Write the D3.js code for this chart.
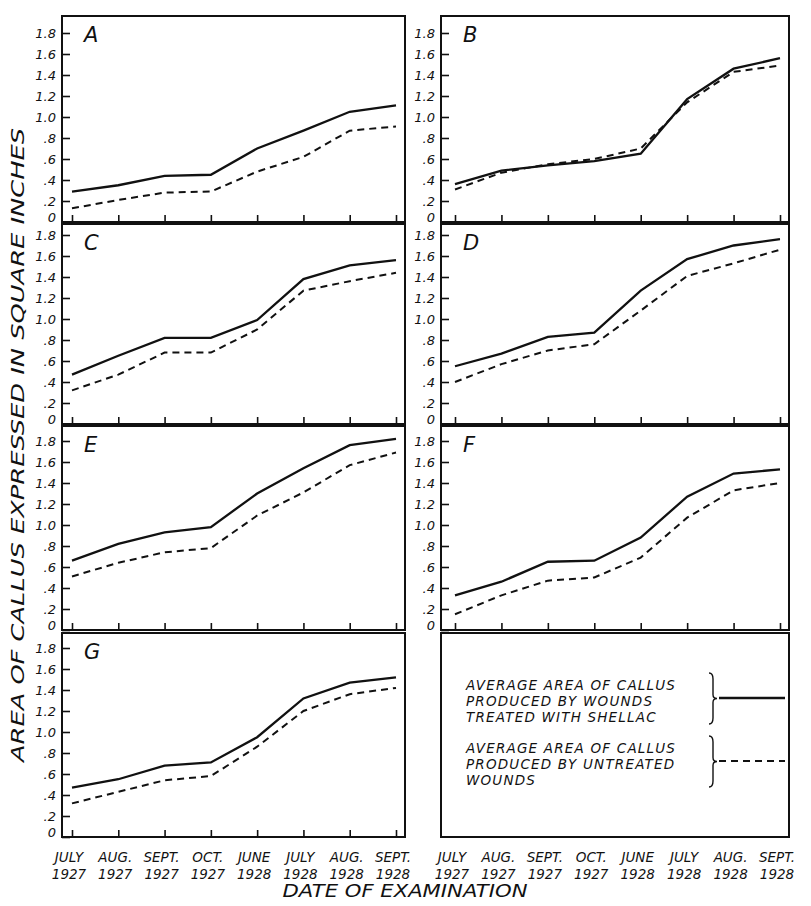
<!DOCTYPE html>
<html>
<head>
<meta charset="utf-8">
<script src="https://cdn.jsdelivr.net/npm/d3@7"></script>
<style>
  html, body { margin: 0; padding: 0; background: #fff; }
  svg { display: block; }
  text { font-family: 'DejaVu Sans', sans-serif; font-style: italic; fill: #111; }
</style>
</head>
<body>
<svg id="chart" width="811" height="906"></svg>
<script>
// x categories (date of examination)
const months = ['JULY', 'AUG.', 'SEPT.', 'OCT.', 'JUNE', 'JULY', 'AUG.', 'SEPT.'];
const years = ['1927', '1927', '1927', '1927', '1928', '1928', '1928', '1928'];

// y ticks
const yTicks = [0, 0.2, 0.4, 0.6, 0.8, 1.0, 1.2, 1.4, 1.6, 1.8];
const yTickLabels = ['0', '.2', '.4', '.6', '.8', '1.0', '1.2', '1.4', '1.6', '1.8'];

// 셸락 처리 / 무처리 상처 — 패널별 값 (sq. in.)
const shellacA = [0.29, 0.35, 0.44, 0.45, 0.70, 0.87, 1.05, 1.11];
const untreatedA = [0.13, 0.21, 0.28, 0.29, 0.48, 0.62, 0.87, 0.91];
const shellacB = [0.36, 0.49, 0.54, 0.58, 0.65, 1.17, 1.46, 1.56];
const untreatedB = [0.31, 0.47, 0.55, 0.60, 0.70, 1.14, 1.43, 1.49];
const shellacC = [0.47, 0.65, 0.82, 0.82, 0.99, 1.38, 1.51, 1.56];
const untreatedC = [0.32, 0.47, 0.68, 0.68, 0.90, 1.27, 1.36, 1.44];
const shellacD = [0.55, 0.67, 0.83, 0.87, 1.27, 1.57, 1.70, 1.76];
const untreatedD = [0.40, 0.57, 0.70, 0.76, 1.08, 1.41, 1.53, 1.66];
const shellacE = [0.66, 0.82, 0.93, 0.98, 1.30, 1.54, 1.76, 1.82];
const untreatedE = [0.51, 0.64, 0.74, 0.78, 1.09, 1.31, 1.57, 1.69];
const shellacF = [0.33, 0.46, 0.65, 0.66, 0.88, 1.27, 1.49, 1.53];
const untreatedF = [0.15, 0.33, 0.47, 0.50, 0.69, 1.07, 1.33, 1.40];
const shellacG = [0.47, 0.55, 0.68, 0.71, 0.95, 1.32, 1.47, 1.52];
const untreatedG = [0.32, 0.43, 0.54, 0.58, 0.86, 1.20, 1.36, 1.42];

const legendShellac = ['AVERAGE AREA OF CALLUS', 'PRODUCED BY WOUNDS', 'TREATED WITH SHELLAC'];
const legendUntreated = ['AVERAGE AREA OF CALLUS', 'PRODUCED BY UNTREATED', 'WOUNDS'];

const panels = [
  { id: 'A', col: 0, row: 0, shellac: shellacA, untreated: untreatedA },
  { id: 'B', col: 1, row: 0, shellac: shellacB, untreated: untreatedB },
  { id: 'C', col: 0, row: 1, shellac: shellacC, untreated: untreatedC },
  { id: 'D', col: 1, row: 1, shellac: shellacD, untreated: untreatedD },
  { id: 'E', col: 0, row: 2, shellac: shellacE, untreated: untreatedE },
  { id: 'F', col: 1, row: 2, shellac: shellacF, untreated: untreatedF },
  { id: 'G', col: 0, row: 3, shellac: shellacG, untreated: untreatedG },
];

// 레이아웃
const cols = [
  { left: 62, right: 405, first: 72, last: 396 },
  { left: 441, right: 789, first: 455, last: 780 },
];
const rows = [
  { top: 16, bottom: 222 },
  { top: 224, bottom: 424 },
  { top: 426, bottom: 630 },
  { top: 633, bottom: 837 },
];
const tickSpan = 189; // px from 0 to 1.8

const svg = d3.select('#chart');
const idx = d3.range(months.length);

function drawPanel(p) {
  const c = cols[p.col];
  const r = rows[p.row];
  const x = d3.scalePoint().domain(idx).range([c.first, c.last]);
  const y = d3.scaleLinear().domain([0, 1.8]).range([r.bottom, r.bottom - tickSpan]);

  const g = svg.append('g').attr('class', `panel-${p.id}`);

  g.append('rect')
    .attr('x', c.left)
    .attr('y', r.top)
    .attr('width', c.right - c.left)
    .attr('height', r.bottom - r.top)
    .attr('fill', 'none')
    .attr('stroke', '#111')
    .attr('stroke-width', 2);

  // y축: 안쪽으로 눈금
  const yAxis = g.append('g')
    .attr('transform', `translate(${c.left},0)`)
    .call(d3.axisRight(y).tickValues(yTicks).tickSize(8).tickFormat(''));
  yAxis.select('.domain').remove();
  yAxis.selectAll('line').attr('stroke', '#111').attr('stroke-width', 1.6);

  // 0 라벨은 아래 패널의 1.8과 겹치지 않게 살짝 위로
  g.selectAll('.ylab')
    .data(yTicks)
    .enter()
    .append('text')
    .attr('x', c.left - 6)
    .attr('y', (d) => y(d) + (d === 0 ? 0 : 4.5))
    .attr('text-anchor', 'end')
    .attr('font-size', 13)
    .text((d, i) => yTickLabels[i]);

  // x축 눈금 (아래에서 위로)
  const xAxis = g.append('g')
    .attr('transform', `translate(0,${r.bottom})`)
    .call(d3.axisTop(x).tickSize(7).tickFormat(''));
  xAxis.select('.domain').remove();
  xAxis.selectAll('line').attr('stroke', '#111').attr('stroke-width', 1.6);

  const line = d3.line()
    .x((d, i) => x(i))
    .y((d) => y(d));

  g.append('path')
    .datum(p.untreated)
    .attr('d', line)
    .attr('fill', 'none')
    .attr('stroke', '#111')
    .attr('stroke-width', 2)
    .attr('stroke-dasharray', '7,5');

  g.append('path')
    .datum(p.shellac)
    .attr('d', line)
    .attr('fill', 'none')
    .attr('stroke', '#111')
    .attr('stroke-width', 2.3);

  g.append('text')
    .attr('x', c.left + 22)
    .attr('y', r.top + 26)
    .attr('font-size', 21)
    .text(p.id);

  // 맨 아래 행만 날짜 라벨
  if (p.row === 3 || (p.col === 1 && p.row === 2)) {
    const labels = svg.append('g');
    labels.selectAll('.m')
      .data(idx)
      .enter()
      .append('text')
      .attr('x', (i) => x(i) - 3)
      .attr('y', 862)
      .attr('text-anchor', 'middle')
      .attr('font-size', 13.5)
      .text((i) => months[i]);
    labels.selectAll('.yr')
      .data(idx)
      .enter()
      .append('text')
      .attr('x', (i) => x(i) - 3)
      .attr('y', 879)
      .attr('text-anchor', 'middle')
      .attr('font-size', 13.5)
      .text((i) => years[i]);
  }
}

function bracePath(bx, y0, y1, w) {
  const ym = (y0 + y1) / 2;
  const xm = bx + w / 2;
  return `M${bx},${y0} Q${xm},${y0} ${xm},${y0 + 6} L${xm},${ym - 4} Q${xm},${ym} ${bx + w},${ym}` +
    ` Q${xm},${ym} ${xm},${ym + 4} L${xm},${y1 - 6} Q${xm},${y1} ${bx},${y1}`;
}

function drawLegend() {
  const c = cols[1];
  const r = rows[3];
  const g = svg.append('g').attr('class', 'legend');

  g.append('rect')
    .attr('x', c.left)
    .attr('y', r.top)
    .attr('width', c.right - c.left)
    .attr('height', r.bottom - r.top)
    .attr('fill', 'none')
    .attr('stroke', '#111')
    .attr('stroke-width', 2);

  const groups = [
    { lines: legendShellac, top: 690, dash: null, y: 698 },
    { lines: legendUntreated, top: 753, dash: '7,5', y: 761 },
  ];

  groups.forEach((grp) => {
    grp.lines.forEach((t, i) => {
      g.append('text')
        .attr('x', 466)
        .attr('y', grp.top + i * 16)
        .attr('font-size', 13.5)
        .attr('letter-spacing', 1.2)
        .text(t);
    });
    g.append('path')
      .attr('d', bracePath(709, grp.y - 25, grp.y + 26, 8))
      .attr('fill', 'none')
      .attr('stroke', '#111')
      .attr('stroke-width', 1.4);
    g.append('line')
      .attr('x1', 719)
      .attr('x2', 785)
      .attr('y1', grp.y)
      .attr('y2', grp.y)
      .attr('stroke', '#111')
      .attr('stroke-width', grp.dash ? 2 : 2.3)
      .attr('stroke-dasharray', grp.dash);
  });
}

panels.forEach(drawPanel);
drawLegend();

// 축 제목
svg.append('text')
  .attr('transform', 'translate(24,445) rotate(-90)')
  .attr('text-anchor', 'middle')
  .attr('font-size', 17)
  .attr('textLength', 634)
  .attr('lengthAdjust', 'spacingAndGlyphs')
  .text('AREA OF CALLUS EXPRESSED IN SQUARE INCHES');

svg.append('text')
  .attr('x', 405)
  .attr('y', 897)
  .attr('text-anchor', 'middle')
  .attr('font-size', 17)
  .attr('textLength', 245)
  .attr('lengthAdjust', 'spacingAndGlyphs')
  .text('DATE OF EXAMINATION');
</script>
</body>
</html>
